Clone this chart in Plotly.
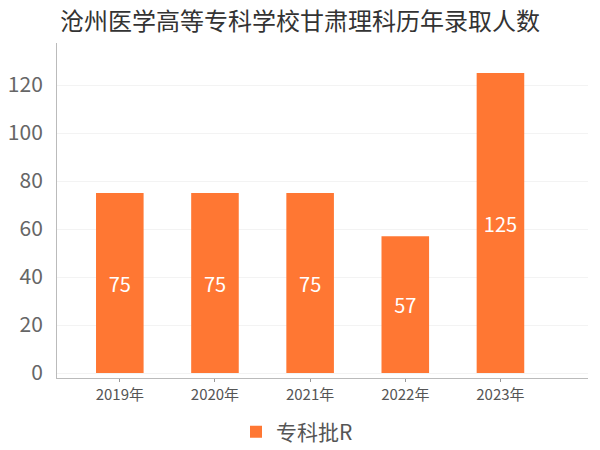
import plotly.graph_objects as go

years = ["2019年", "2020年", "2021年", "2022年", "2023年"]
values = [75, 75, 75, 57, 125]
series_name = "专科批R"
title = "沧州医学高等专科学校甘肃理科历年录取人数"
ytick_vals = [0, 20, 40, 60, 80, 100, 120]

font = "Noto Sans CJK SC, Microsoft YaHei, sans-serif"
bar_color = "#FF7733"

# The page body has an 8px default margin, so the figure is 8px smaller
W, H = 592, 442

fig = go.Figure()
fig.add_trace(go.Bar(
    x=list(range(len(years))),
    y=values,
    name=series_name,
    marker=dict(color=bar_color, line=dict(width=0)),
    width=0.5,
    text=[str(v) for v in values],
    textposition="inside",
    insidetextanchor="middle",
    textangle=0,
    textfont=dict(color="white", size=20, family=font),
    showlegend=True,
))

fig.update_layout(
    width=W, height=H,
    margin=dict(l=49, r=12, t=35, b=72, autoexpand=False),
    paper_bgcolor="white", plot_bgcolor="white",
    font=dict(family=font),
    title=dict(text=title, xref="container", x=52 / W, xanchor="left",
               yref="container", y=1 - 14 / H, yanchor="middle",
               pad=dict(l=0, r=0, t=0, b=0), automargin=False,
               font=dict(size=24, color="#333333", family=font)),
    xaxis=dict(
        tickmode="array", tickvals=list(range(len(years))), ticktext=years,
        range=[-0.66, 4.92], automargin=False,
        showline=True, linecolor="#bbbbbb", linewidth=1,
        ticks="outside", ticklen=3, tickcolor="#999999",
        tickfont=dict(size=15, color="#555555", family=font),
        showgrid=False, zeroline=False,
    ),
    yaxis=dict(
        range=[-2.08, 137.5], automargin=False,
        tickvals=ytick_vals,
        showline=True, linecolor="#bbbbbb", linewidth=1,
        showgrid=True, gridcolor="#f3f3f3", gridwidth=1,
        zeroline=False,
        tickfont=dict(size=21, color="#666666", family=font),
        ticks="", ticklabelstandoff=9,
    ),
    legend=dict(orientation="h", x=289 / W, xanchor="center", xref="container",
                y=1 - 424 / H, yref="container", yanchor="middle",
                font=dict(size=21, color="#555555", family=font),
                itemwidth=30),
    bargap=0.5,
)

fig.write_html("out.html")
